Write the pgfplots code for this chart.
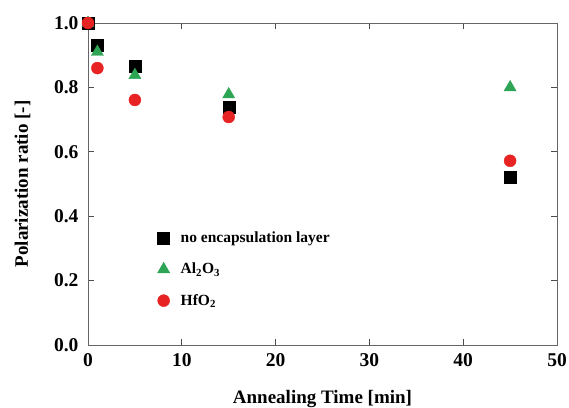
\documentclass[border=0pt]{standalone}
\usepackage{pgfplots}
\pgfplotsset{compat=1.18}
\usepackage{fontspec}
\setmainfont{Liberation Serif}
\definecolor{myred}{RGB}{232,35,35}
\definecolor{mygreen}{RGB}{45,165,85}
\begin{document}
\begin{tikzpicture}
\begin{axis}[
  name=ax,
  scale only axis,
  width=469pt, height=322pt,
  xmin=0, xmax=50, ymin=0, ymax=1.0,
  xtick={0,10,...,50},
  ytick={0,0.2,...,1.0},
  /pgf/number format/assume math mode=true,
  xticklabel style={font=\fontsize{19.5}{19.5}\selectfont\bfseries, yshift=-5pt},
  yticklabel style={font=\fontsize{19.5}{19.5}\selectfont\bfseries, xshift=-6pt, /pgf/number format/.cd, fixed, fixed zerofill, precision=1},
  tick align=inside,
  major tick length=6pt,
  tick style={black!70, line width=0.8pt},
  axis line style={black!60, line width=0.9pt},
  xlabel={\textbf{Annealing Time [min]}},
  ylabel={\textbf{Polarization ratio [-]}},
  label style={font=\fontsize{19}{19}\selectfont},
  xlabel style={at={(rel axis cs:0.5,0)}, anchor=base, yshift=-59pt},
  ylabel style={at={([xshift=-60pt]rel axis cs:0,0.5)}, anchor=base, rotate=0},
  clip=false,
  legend style={at={(rel axis cs:0.148,0.358)}, anchor=north west, draw=none, fill=none,
    font=\fontsize{15.5}{15.5}\selectfont\bfseries, row sep=15pt, column sep=9pt, inner sep=0pt},
  legend cell align=left,
]
\addplot[only marks, mark=square*, mark size=6pt, black] coordinates {
  (0,1.0) (1,0.93) (5,0.867) (15,0.74) (45,0.52)};
\addlegendentry{no encapsulation layer}
\addplot[only marks, mark=triangle*, mark size=7pt, mygreen] coordinates {
  (0,1.0) (1,0.91) (5,0.838) (15,0.778) (45,0.80)};
\addlegendentry{Al\textsubscript{2}O\textsubscript{3}}
\addplot[only marks, mark=*, mark size=6pt, myred] coordinates {
  (0,1.0) (1,0.86) (5,0.761) (15,0.708) (45,0.572)};
\addlegendentry{HfO\textsubscript{2}}
\end{axis}
\pgfresetboundingbox
\path[use as bounding box] ([xshift=-88pt,yshift=-63pt]ax.south west) rectangle ([xshift=12pt,yshift=23pt]ax.north east);
\end{tikzpicture}
\end{document}
